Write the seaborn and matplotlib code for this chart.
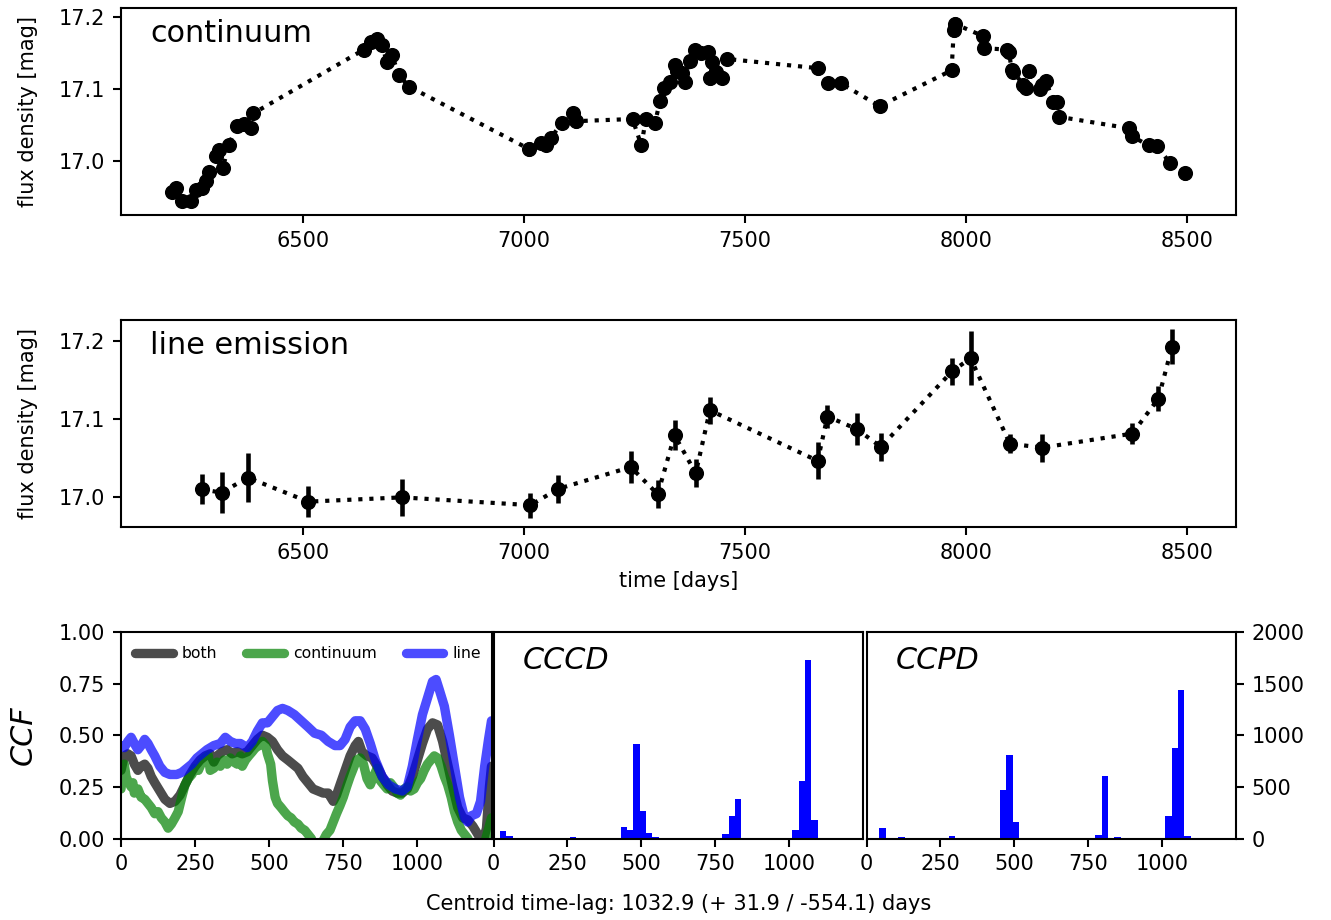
import numpy as np
import pandas as pd
import seaborn as sns
import matplotlib.pyplot as plt

sns.set_style("ticks")
plt.rcParams['font.family'] = ['DejaVu Sans']
plt.rcParams.update({'axes.edgecolor': 'black', 'xtick.color': 'black', 'ytick.color': 'black',
                     'text.color': 'black', 'axes.labelcolor': 'black', 'axes.linewidth': 1.0,
                     'xtick.major.width': 1.0, 'ytick.major.width': 1.0,
                     'xtick.major.size': 4, 'ytick.major.size': 4})

# continuum light curve
cont_t = [6203, 6212, 6227, 6247, 6257, 6271, 6280, 6288, 6304, 6309, 6319, 6332, 6351, 6366, 6382, 6388,
          6638, 6653, 6668, 6679, 6690, 6702, 6717, 6741,
          7012, 7038, 7051, 7062, 7086, 7112, 7119, 7246, 7266, 7276, 7297, 7308, 7318, 7331, 7343, 7346,
          7359, 7365, 7376, 7388, 7401, 7417, 7422, 7426, 7435, 7448, 7459,
          7666, 7688, 7717, 7805, 7968, 7973, 7975, 8039, 8042, 8094, 8098, 8104, 8108,
          8130, 8137, 8143, 8167, 8172, 8182, 8198, 8206, 8212, 8370, 8376, 8414, 8433, 8463, 8497]
cont_mag = [16.956, 16.961, 16.943, 16.944, 16.959, 16.962, 16.971, 16.984, 17.006, 17.014, 16.990, 17.022,
            17.048, 17.051, 17.045, 17.066,
            17.155, 17.166, 17.170, 17.161, 17.138, 17.147, 17.119, 17.103,
            17.016, 17.024, 17.021, 17.032, 17.053, 17.066, 17.055, 17.058, 17.021, 17.058, 17.053, 17.083,
            17.101, 17.110, 17.133, 17.125, 17.123, 17.110, 17.139, 17.155, 17.150, 17.152, 17.115, 17.138,
            17.124, 17.116, 17.142,
            17.129, 17.109, 17.108, 17.076, 17.126, 17.182, 17.191, 17.174, 17.157, 17.155, 17.152, 17.126,
            17.124, 17.106, 17.102, 17.125, 17.100, 17.106, 17.111, 17.082, 17.082, 17.061, 17.045, 17.034,
            17.021, 17.020, 16.996, 16.982]
cont_err = [0.006, 0.007, 0.006, 0.006, 0.007, 0.006, 0.006, 0.007, 0.006, 0.006, 0.009, 0.006,
            0.006, 0.006, 0.008, 0.006,
            0.006, 0.006, 0.006, 0.006, 0.006, 0.008, 0.006, 0.006,
            0.010, 0.006, 0.006, 0.006, 0.006, 0.006, 0.010, 0.007, 0.006, 0.006, 0.008, 0.006,
            0.006, 0.006, 0.009, 0.008, 0.006, 0.007, 0.006, 0.006, 0.006, 0.006, 0.010, 0.006,
            0.006, 0.007, 0.006,
            0.009, 0.008, 0.006, 0.008, 0.008, 0.009, 0.009, 0.008, 0.006, 0.008, 0.006, 0.006,
            0.006, 0.006, 0.006, 0.006, 0.008, 0.006, 0.006, 0.006, 0.006, 0.006, 0.007, 0.008,
            0.006, 0.009, 0.008, 0.009]

# line emission light curve
line_t = [6271, 6316, 6375, 6512, 6724, 7015, 7078, 7242, 7303, 7341, 7389, 7421,
          7665, 7687, 7753, 7808, 7969, 8011, 8100, 8173, 8377, 8436, 8467]
line_mag = [17.0095, 17.005, 17.0245, 16.9935, 16.999, 16.989, 17.010, 17.038, 17.003, 17.079, 17.030, 17.111,
            17.046, 17.103, 17.087, 17.064, 17.161, 17.178, 17.068, 17.063, 17.081, 17.126, 17.193]
line_err = [0.019, 0.026, 0.031, 0.020, 0.024, 0.016, 0.018, 0.020, 0.018, 0.019, 0.018, 0.017,
            0.024, 0.015, 0.021, 0.018, 0.017, 0.035, 0.0125, 0.018, 0.014, 0.016, 0.022]

# cross-correlation functions
ccf_line_lag = [0, 11, 23, 34, 45, 57, 68, 80, 91, 102, 114, 131, 148, 165, 188, 205, 222, 239, 256, 273,
                290, 313, 335, 352, 369, 386, 403, 426, 443, 460, 477, 494, 511, 528, 545, 563, 585, 608,
                631, 653, 676, 699, 722, 739, 756, 773, 790, 807, 824, 841, 858, 881, 903, 926, 949, 966,
                983, 1000, 1017, 1034, 1051, 1063, 1074, 1091, 1108, 1125, 1142, 1159, 1170, 1182, 1199,
                1213, 1227, 1240, 1250]
ccf_line = [0.45, 0.44, 0.47, 0.49, 0.46, 0.43, 0.45, 0.48, 0.46, 0.43, 0.40, 0.35, 0.32, 0.31, 0.31, 0.32,
            0.34, 0.36, 0.39, 0.41, 0.43, 0.45, 0.46, 0.49, 0.47, 0.46, 0.46, 0.44, 0.47, 0.52, 0.56, 0.56,
            0.59, 0.62, 0.63, 0.62, 0.60, 0.57, 0.54, 0.51, 0.50, 0.47, 0.45, 0.45, 0.48, 0.54, 0.57, 0.57,
            0.53, 0.46, 0.38, 0.30, 0.26, 0.24, 0.23, 0.25, 0.35, 0.48, 0.60, 0.68, 0.76, 0.77, 0.72, 0.64,
            0.50, 0.35, 0.20, 0.10, 0.08, 0.11, 0.12, 0.18, 0.35, 0.48, 0.57]

ccf_both_lag = [0, 11, 23, 34, 45, 57, 68, 80, 91, 102, 114, 131, 148, 165, 182, 199, 216, 233, 250, 267,
                284, 301, 313, 324, 341, 358, 375, 392, 409, 426, 443, 460, 477, 494, 511, 528, 545, 563,
                580, 597, 614, 631, 648, 665, 682, 699, 716, 727, 739, 756, 773, 790, 801, 813, 830, 847,
                864, 881, 898, 915, 932, 949, 966, 983, 1000, 1017, 1034, 1051, 1068, 1085, 1102, 1119,
                1136, 1153, 1170, 1187, 1204, 1221, 1233, 1243, 1250]
ccf_both = [0.33, 0.40, 0.41, 0.40, 0.36, 0.33, 0.35, 0.36, 0.34, 0.30, 0.27, 0.23, 0.19, 0.17, 0.18, 0.21,
            0.26, 0.31, 0.35, 0.38, 0.40, 0.41, 0.37, 0.40, 0.42, 0.43, 0.41, 0.42, 0.41, 0.42, 0.45, 0.48,
            0.50, 0.49, 0.47, 0.43, 0.40, 0.38, 0.36, 0.34, 0.30, 0.27, 0.24, 0.23, 0.22, 0.22, 0.18, 0.21,
            0.26, 0.33, 0.40, 0.45, 0.47, 0.42, 0.40, 0.39, 0.35, 0.30, 0.26, 0.23, 0.22, 0.22, 0.24, 0.30,
            0.38, 0.46, 0.53, 0.56, 0.55, 0.47, 0.36, 0.25, 0.15, 0.10, 0.09, 0.06, 0.02, -0.02, 0.05, 0.25,
            0.35]

ccf_cont_lag = [0, 6, 11, 17, 23, 34, 40, 45, 57, 68, 80, 91, 102, 114, 125, 136, 148, 159, 170, 182, 193,
                205, 216, 227, 239, 250, 261, 273, 284, 295, 301, 313, 324, 335, 347, 358, 369, 381, 392,
                403, 409, 420, 431, 443, 454, 466, 477, 488, 494, 505, 511, 520, 528, 540, 551, 563, 574,
                585, 597, 608, 620, 631, 642, 653, 665, 676, 682, 693, 705, 716, 727, 739, 750, 761, 773,
                784, 795, 807, 818, 830, 841, 852, 864, 875, 886, 898, 909, 920, 932, 943, 955, 966, 977,
                989, 1000, 1011, 1023, 1034, 1045, 1057, 1068, 1080, 1091, 1102, 1114, 1125, 1136, 1148,
                1159, 1170, 1182, 1193, 1204, 1216, 1227, 1239, 1250]
ccf_cont = [0.24, 0.33, 0.36, 0.30, 0.28, 0.25, 0.27, 0.22, 0.24, 0.20, 0.19, 0.17, 0.15, 0.12, 0.13, 0.10,
            0.08, 0.05, 0.07, 0.10, 0.13, 0.20, 0.26, 0.29, 0.31, 0.34, 0.33, 0.37, 0.39, 0.40, 0.33, 0.34,
            0.37, 0.35, 0.38, 0.36, 0.39, 0.37, 0.36, 0.40, 0.35, 0.38, 0.40, 0.42, 0.44, 0.45, 0.47, 0.45,
            0.41, 0.36, 0.28, 0.20, 0.17, 0.15, 0.13, 0.11, 0.10, 0.08, 0.07, 0.05, 0.04, 0.02, 0.00, -0.04,
            -0.08, -0.05, -0.01, 0.02, 0.04, 0.08, 0.12, 0.16, 0.20, 0.25, 0.30, 0.34, 0.38, 0.39, 0.36,
            0.29, 0.26, 0.30, 0.34, 0.28, 0.26, 0.24, 0.27, 0.25, 0.22, 0.21, 0.24, 0.25, 0.23, 0.24, 0.27,
            0.29, 0.33, 0.36, 0.38, 0.40, 0.39, 0.35, 0.30, 0.26, 0.20, 0.13, 0.08, 0.04, 0.02, 0.00, -0.04,
            -0.05, -0.06, -0.05, -0.02, 0.04, 0.10]

# centroid / peak distributions (bin centres, counts)
bin_width = 21.5
cccd_lag = [32.25, 53.75, 268.75, 440.75, 462.25, 483.75, 505.25, 526.75, 548.25,
            784.75, 806.25, 827.75, 1021.25, 1042.75, 1064.25, 1085.75]
cccd_count = [71, 26, 10, 110, 81, 913, 268, 55, 13, 45, 219, 384, 84, 555, 1726, 184]
ccpd_lag = [53.75, 118.25, 290.25, 354.75, 462.25, 483.75, 505.25, 784.75, 806.25, 849.25,
            1021.25, 1042.75, 1064.25, 1085.75]
ccpd_count = [106, 10, 22, 5, 467, 807, 160, 32, 603, 10, 216, 877, 1442, 23]

lag_ticks = [0, 250, 500, 750, 1000]

W, H = 1331, 920
fig = plt.figure(figsize=(W / 150, H / 150), dpi=150)


def box(l, r, t, b):
    return [l / W, 1 - b / H, (r - l) / W, (b - t) / H]


ax_c = fig.add_axes(box(121, 1236, 8, 215))
ax_l = fig.add_axes(box(121, 1236, 320, 527), sharex=ax_c)
ax_ccf = fig.add_axes(box(121, 491.5, 632, 838.5))
ax_cccd = fig.add_axes(box(493.5, 863, 632, 838.5))
ax_ccpd = fig.add_axes(box(866.5, 1236, 632, 838.5))

for ax, t, m, e, name in [(ax_c, cont_t, cont_mag, cont_err, 'continuum'),
                          (ax_l, line_t, line_mag, line_err, 'line emission')]:
    df = pd.DataFrame({'t': t, 'mag': m})
    sns.lineplot(data=df, x='t', y='mag', ax=ax, color='k', linestyle=':', linewidth=2,
                 marker='o', markersize=6.5, markeredgecolor='k', estimator=None, sort=False)
    ax.errorbar(t, m, yerr=e, fmt='none', ecolor='k', elinewidth=2.2)
    ax.set_ylabel('flux density [mag]', labelpad=10)
    ax.set_xlabel('')
    ax.text(0.026, 0.875, name, transform=ax.transAxes, fontsize=14.5, va='center')
    ax.set_yticks([17.0, 17.1, 17.2])
    ax.tick_params(labelbottom=True)

ax_l.set_xlabel('time [days]')
ax_c.set_xticks([6500, 7000, 7500, 8000, 8500])

ccf_df = pd.concat([
    pd.DataFrame({'lag': ccf_both_lag, 'ccf': ccf_both, 'kind': 'both'}),
    pd.DataFrame({'lag': ccf_cont_lag, 'ccf': ccf_cont, 'kind': 'continuum'}),
    pd.DataFrame({'lag': ccf_line_lag, 'ccf': ccf_line, 'kind': 'line'}),
], ignore_index=True)
sns.lineplot(data=ccf_df, x='lag', y='ccf', hue='kind', ax=ax_ccf, estimator=None, sort=False,
             palette={'both': 'black', 'continuum': 'green', 'line': 'blue'}, linewidth=4.5, alpha=0.7)
ax_ccf.set_xlim(0, 1250)
ax_ccf.set_ylim(0, 1)
ax_ccf.set_yticks([0, 0.25, 0.5, 0.75, 1.0])
ax_ccf.set_ylabel('CCF', fontsize=14.5, style='italic', labelpad=10)
ax_ccf.set_xlabel('')
ax_ccf.legend(loc='upper left', ncol=3, frameon=False, fontsize=7.5, handlelength=2.4,
              handletextpad=0.6, columnspacing=1.85, borderaxespad=0.5)

edges = [i * bin_width for i in range(59)]
for ax, lag, cnt, name in [(ax_cccd, cccd_lag, cccd_count, 'CCCD'), (ax_ccpd, ccpd_lag, ccpd_count, 'CCPD')]:
    hdf = pd.DataFrame({'lag': lag, 'count': cnt})
    sns.histplot(data=hdf, x='lag', weights='count', bins=edges, ax=ax, color='blue', alpha=1, linewidth=0)
    ax.set_xlim(0, 1250)
    ax.set_ylim(0, 2000)
    ax.set_xlabel('')
    ax.set_ylabel('')
    ax.text(0.08, 0.86, name, transform=ax.transAxes, fontsize=14.5, style='italic', va='center')

ax_cccd.set_yticks([])
ax_ccpd.yaxis.tick_right()
ax_ccpd.set_yticks([0, 500, 1000, 1500, 2000])
for ax in [ax_ccf, ax_cccd, ax_ccpd]:
    ax.set_xticks(lag_ticks)

fig.text(679 / W, 1 - 904 / H, 'Centroid time-lag: 1032.9 (+ 31.9 / -554.1) days', ha='center', va='center')

fig.savefig('out.png', dpi=150)
